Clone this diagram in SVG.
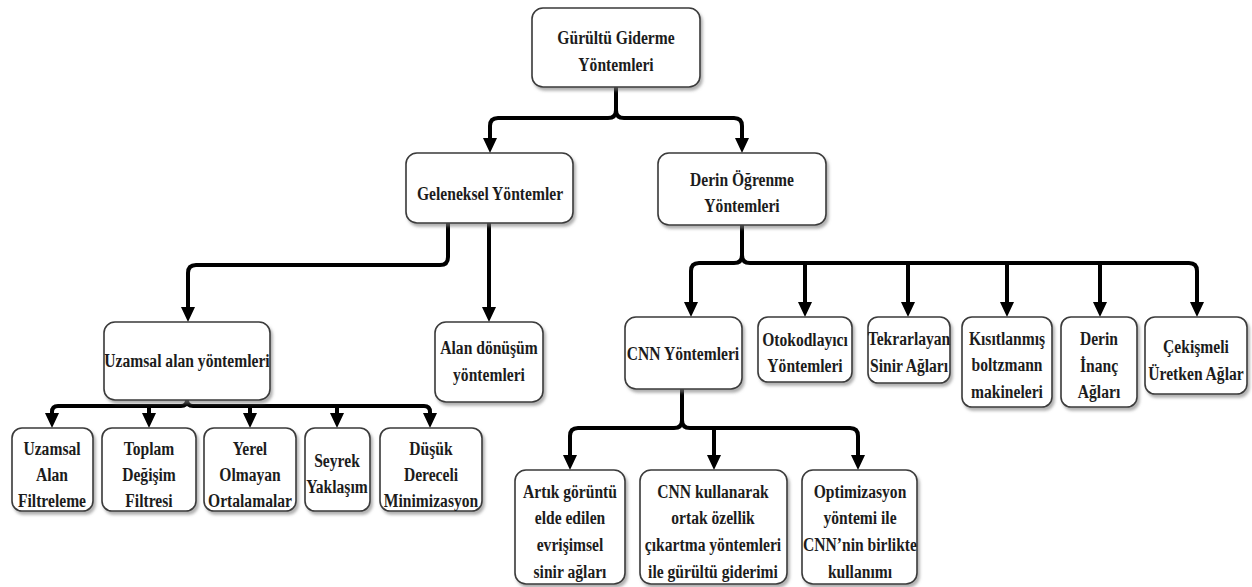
<svg xmlns="http://www.w3.org/2000/svg" width="1252" height="587" viewBox="0 0 1252 587">
  <style>
    .box { fill: #ffffff; stroke: #3a3a3a; stroke-width: 1.6; filter: url(#shadow); }
    .lbl { font-family: "Liberation Serif", "Times New Roman", serif; font-weight: bold; font-size: 19.5px; fill: #1c1c1c; text-anchor: middle; }
    .wire { fill: none; stroke: #000000; stroke-width: 4; stroke-linejoin: round; }
    .arrow { marker-end: url(#head); }
  </style>
  <defs>
    <filter id="shadow" x="-10%" y="-10%" width="130%" height="130%">
      <feDropShadow dx="2" dy="3" stdDeviation="1.5" flood-color="#7a7a7a" flood-opacity="0.6"/>
    </filter>
    <marker id="head" viewBox="0 0 16 14" markerWidth="16" markerHeight="14" markerUnits="userSpaceOnUse" refX="3" refY="7" orient="auto">
      <path d="M0,0 L15,7 L0,14 Z" fill="#000000"/>
    </marker>
  </defs>
  <rect width="1252" height="587" fill="#ffffff"/>

  <!-- connectors -->
  <g id="connectors">
    <!-- root split -->
    <path class="wire arrow" d="M616,87 V110 Q616,118 608,118 H498 Q490,118 490,126 V141"/>
    <path class="wire arrow" d="M616,110 Q616,118 624,118 H734 Q742,118 742,126 V141"/>
    <!-- classical methods -->
    <path class="wire arrow" d="M448,223 V257 Q448,265 440,265 H196 Q188,265 188,273 V310"/>
    <path class="wire arrow" d="M489,223 V310"/>
    <!-- spatial domain children -->
    <path class="wire arrow" d="M187,400 Q187,406 181,406 H58 Q52,406 52,412 V416"/>
    <path class="wire arrow" d="M187,400 Q187,406 193,406 H424 Q430,406 430,412 V416"/>
    <path class="wire arrow" d="M149,406 V416"/>
    <path class="wire arrow" d="M250,406 V416"/>
    <path class="wire arrow" d="M337,406 V416"/>
    <!-- deep learning children -->
    <path class="wire arrow" d="M742,225 V255 Q742,263 734,263 H699 Q691,263 691,271 V305"/>
    <path class="wire arrow" d="M742,255 Q742,263 750,263 H1189 Q1197,263 1197,271 V305"/>
    <path class="wire arrow" d="M805,263 V305"/>
    <path class="wire arrow" d="M908,263 V305"/>
    <path class="wire arrow" d="M1007,263 V305"/>
    <path class="wire arrow" d="M1100,263 V305"/>
    <!-- CNN children -->
    <path class="wire arrow" d="M682,389 V420 Q682,428 674,428 H578 Q570,428 570,436 V458"/>
    <path class="wire arrow" d="M682,420 Q682,428 690,428 H850 Q858,428 858,436 V458"/>
    <path class="wire arrow" d="M714,428 V458"/>
  </g>

  <!-- nodes -->
  <g id="n-root">
    <rect class="box" x="532" y="8" width="168" height="79" rx="11"/>
    <text class="lbl" transform="translate(616,0) scale(0.8,1)"><tspan x="0" y="44">Gürültü Giderme</tspan><tspan x="0" y="71">Yöntemleri</tspan></text>
  </g>
  <g id="n-geleneksel">
    <rect class="box" x="406" y="153" width="167" height="70" rx="11"/>
    <text class="lbl" transform="translate(490,0) scale(0.8,1)"><tspan x="0" y="200">Geleneksel Yöntemler</tspan></text>
  </g>
  <g id="n-derin">
    <rect class="box" x="658" y="153" width="168" height="72" rx="11"/>
    <text class="lbl" transform="translate(742,0) scale(0.8,1)"><tspan x="0" y="186">Derin Öğrenme</tspan><tspan x="0" y="212">Yöntemleri</tspan></text>
  </g>
  <g id="n-uzamsal-alan">
    <rect class="box" x="104" y="322" width="166" height="78" rx="11"/>
    <text class="lbl" transform="translate(187,0) scale(0.8,1)"><tspan x="0" y="367">Uzamsal alan yöntemleri</tspan></text>
  </g>
  <g id="n-alan-donusum">
    <rect class="box" x="435" y="322" width="108" height="80" rx="11"/>
    <text class="lbl" transform="translate(489,0) scale(0.8,1)"><tspan x="0" y="354">Alan dönüşüm</tspan><tspan x="0" y="381">yöntemleri</tspan></text>
  </g>
  <g id="n-cnn">
    <rect class="box" x="625" y="317" width="117" height="72" rx="11"/>
    <text class="lbl" transform="translate(683,0) scale(0.8,1)"><tspan x="0" y="360">CNN Yöntemleri</tspan></text>
  </g>
  <g id="n-otokodlayici">
    <rect class="box" x="758" y="317" width="94" height="65" rx="10"/>
    <text class="lbl" transform="translate(805,0) scale(0.8,1)"><tspan x="0" y="346">Otokodlayıcı</tspan><tspan x="0" y="372">Yöntemleri</tspan></text>
  </g>
  <g id="n-tekrarlayan">
    <rect class="box" x="868" y="317" width="82" height="66" rx="10"/>
    <text class="lbl" transform="translate(909,0) scale(0.8,1)"><tspan x="0" y="345">Tekrarlayan</tspan><tspan x="0" y="372">Sinir Ağları</tspan></text>
  </g>
  <g id="n-kisitlanmis">
    <rect class="box" x="962" y="317" width="90" height="90" rx="10"/>
    <text class="lbl" transform="translate(1007,0) scale(0.8,1)"><tspan x="0" y="345">Kısıtlanmış</tspan><tspan x="0" y="371">boltzmann</tspan><tspan x="0" y="398">makineleri</tspan></text>
  </g>
  <g id="n-derin-inanc">
    <rect class="box" x="1061" y="317" width="76" height="90" rx="10"/>
    <text class="lbl" transform="translate(1099,0) scale(0.8,1)"><tspan x="0" y="345">Derin</tspan><tspan x="0" y="372">İnanç</tspan><tspan x="0" y="398">Ağları</tspan></text>
  </g>
  <g id="n-cekismeli">
    <rect class="box" x="1145" y="317" width="102" height="77" rx="10"/>
    <text class="lbl" transform="translate(1196,0) scale(0.8,1)"><tspan x="0" y="353">Çekişmeli</tspan><tspan x="0" y="380">Üretken Ağlar</tspan></text>
  </g>

  <g id="n-uzamsal-filtre">
    <rect class="box" x="12" y="428" width="81" height="83" rx="10"/>
    <text class="lbl" transform="translate(52,0) scale(0.8,1)"><tspan x="0" y="455">Uzamsal</tspan><tspan x="0" y="481">Alan</tspan><tspan x="0" y="507">Filtreleme</tspan></text>
  </g>
  <g id="n-toplam">
    <rect class="box" x="102" y="428" width="94" height="83" rx="10"/>
    <text class="lbl" transform="translate(149,0) scale(0.8,1)"><tspan x="0" y="455">Toplam</tspan><tspan x="0" y="481">Değişim</tspan><tspan x="0" y="507">Filtresi</tspan></text>
  </g>
  <g id="n-yerel">
    <rect class="box" x="204" y="428" width="92" height="83" rx="10"/>
    <text class="lbl" transform="translate(250,0) scale(0.8,1)"><tspan x="0" y="455">Yerel</tspan><tspan x="0" y="481">Olmayan</tspan><tspan x="0" y="507">Ortalamalar</tspan></text>
  </g>
  <g id="n-seyrek">
    <rect class="box" x="305" y="428" width="65" height="83" rx="10"/>
    <text class="lbl" transform="translate(337,0) scale(0.8,1)"><tspan x="0" y="467">Seyrek</tspan><tspan x="0" y="493">Yaklaşım</tspan></text>
  </g>
  <g id="n-dusuk">
    <rect class="box" x="380" y="428" width="102" height="83" rx="10"/>
    <text class="lbl" transform="translate(431,0) scale(0.8,1)"><tspan x="0" y="455">Düşük</tspan><tspan x="0" y="481">Dereceli</tspan><tspan x="0" y="507">Minimizasyon</tspan></text>
  </g>

  <g id="n-artik">
    <rect class="box" x="515" y="470" width="110" height="114" rx="11"/>
    <text class="lbl" transform="translate(570,0) scale(0.8,1)"><tspan x="0" y="498">Artık görüntü</tspan><tspan x="0" y="524">elde edilen</tspan><tspan x="0" y="551">evrişimsel</tspan><tspan x="0" y="578">sinir ağları</tspan></text>
  </g>
  <g id="n-cnn-ozellik">
    <rect class="box" x="640" y="470" width="147" height="114" rx="11"/>
    <text class="lbl" transform="translate(713,0) scale(0.8,1)"><tspan x="0" y="498">CNN kullanarak</tspan><tspan x="0" y="524">ortak özellik</tspan><tspan x="0" y="551">çıkartma yöntemleri</tspan><tspan x="0" y="578">ile gürültü giderimi</tspan></text>
  </g>
  <g id="n-optimizasyon">
    <rect class="box" x="802" y="470" width="115" height="114" rx="11"/>
    <text class="lbl" transform="translate(860,0) scale(0.8,1)"><tspan x="0" y="498">Optimizasyon</tspan><tspan x="0" y="524">yöntemi ile</tspan><tspan x="0" y="551">CNN’nin birlikte</tspan><tspan x="0" y="578">kullanımı</tspan></text>
  </g>
</svg>
